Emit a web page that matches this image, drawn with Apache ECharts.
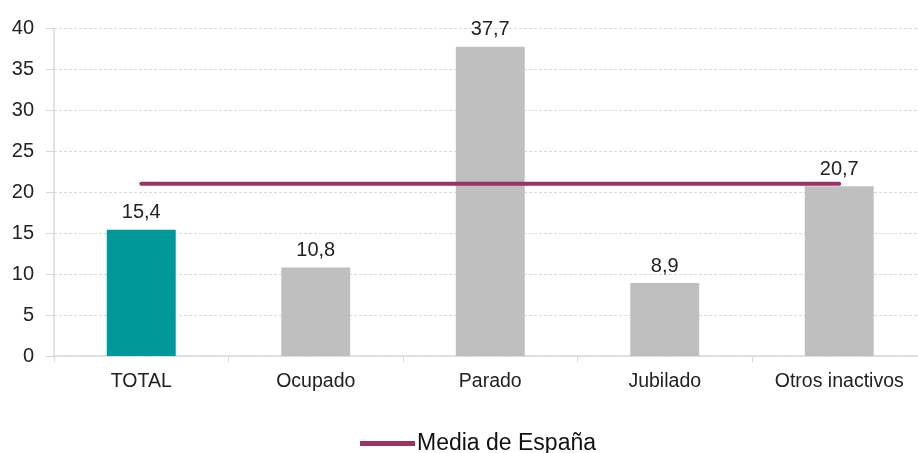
<!DOCTYPE html>
<html><head><meta charset="utf-8">
<script src="https://cdn.jsdelivr.net/npm/echarts@6/dist/echarts.min.js"></script>
<style>html,body{margin:0;padding:0;background:#fff;overflow:hidden;width:918px;height:453px}#c{width:927px;height:453px}</style>
</head><body><div id="c"></div>
<script>
var categories = ['TOTAL','Ocupado','Parado','Jubilado','Otros inactivos'];
var values = [15.4, 10.8, 37.7, 8.9, 20.7];
var mediaEspana = [21.0, 21.0, 21.0, 21.0, 21.0];
var yTicks = [0,5,10,15,20,25,30,35,40];
var barColors = ['#009999','#BFBFBF','#BFBFBF','#BFBFBF','#BFBFBF'];
var font = '"Liberation Sans", Arial, sans-serif';
var chart = echarts.init(document.getElementById('c'));
chart.setOption({
  animation:false,
  textStyle:{fontFamily:font},
  grid:{left:54,right:0.5,top:28,bottom:97,containLabel:false},
  legend:{top:427,left:355,data:['Media de España'],itemWidth:55,itemHeight:5,itemGap:4,
    textStyle:{fontSize:23,color:'#111',fontFamily:font,padding:[0,0,0,-3]},icon:'rect'},
  xAxis:{type:'category',data:categories,
    axisLine:{lineStyle:{color:'#D9D9D9',width:1.5}},
    axisTick:{show:true,alignWithLabel:false,length:6,lineStyle:{color:'#D9D9D9'}},
    axisLabel:{fontSize:19.5,color:'#222',margin:16,fontFamily:font}},
  yAxis:{type:'value',min:0,max:40,interval:5,
    axisLine:{show:true,lineStyle:{color:'#D9D9D9',width:1.5}},
    axisTick:{show:true,length:8,lineStyle:{color:'#D9D9D9'}},
    axisLabel:{fontSize:20,color:'#222',margin:20,fontFamily:font,
      formatter:function(v){return yTicks.indexOf(v)>=0?String(v):'';}},
    splitLine:{lineStyle:{color:'#D9D9D9',type:[3,2]}}},
  series:[
    {type:'bar',name:'valor',data:values.map(function(v,i){return {value:v,itemStyle:{color:barColors[i]}};}),
     barWidth:'39.5%',
     label:{show:true,position:'top',distance:7,fontSize:20,color:'#222',fontFamily:font,
       formatter:function(p){return p.value.toFixed(1).replace('.',',');}}},
    {type:'line',name:'Media de España',data:mediaEspana,symbol:'none',
     lineStyle:{color:'#993366',width:4,cap:'round'},itemStyle:{color:'#993366'},z:5}
  ]
});
</script></body></html>
